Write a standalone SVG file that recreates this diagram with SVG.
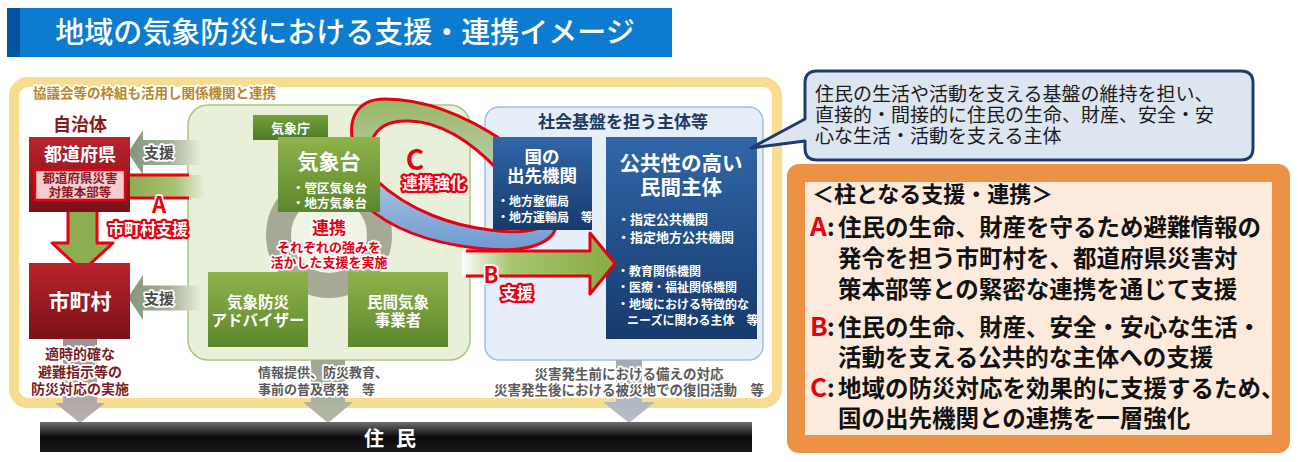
<svg xmlns="http://www.w3.org/2000/svg" width="1298" height="462" viewBox="0 0 1298 462">
<defs>
<linearGradient id="gRed" x1="0" y1="0" x2="0" y2="1"><stop offset="0" stop-color="#bb232c"/><stop offset="1" stop-color="#7a1118"/></linearGradient>
<linearGradient id="gGreen" x1="0" y1="0" x2="0" y2="1"><stop offset="0" stop-color="#8fb34c"/><stop offset="1" stop-color="#5b872b"/></linearGradient>
<linearGradient id="gTab" x1="0" y1="0" x2="0" y2="1"><stop offset="0" stop-color="#74a03d"/><stop offset="1" stop-color="#4d7a25"/></linearGradient>
<linearGradient id="gBlue" x1="0" y1="0" x2="0" y2="1"><stop offset="0" stop-color="#3166a8"/><stop offset="1" stop-color="#163a6c"/></linearGradient>
<linearGradient id="gBar" x1="0" y1="0" x2="0" y2="1"><stop offset="0" stop-color="#6e6e6e"/><stop offset="0.5" stop-color="#0a0a0a"/><stop offset="1" stop-color="#1a1a1a"/></linearGradient>
<linearGradient id="gA" gradientUnits="userSpaceOnUse" x1="130" y1="0" x2="205" y2="0"><stop offset="0" stop-color="#8cad50"/><stop offset="0.6" stop-color="#a6c274"/><stop offset="1" stop-color="#e8f0da"/></linearGradient>
<linearGradient id="gS" gradientUnits="userSpaceOnUse" x1="128" y1="0" x2="202" y2="0"><stop offset="0" stop-color="#84957a"/><stop offset="0.55" stop-color="#a3ae98"/><stop offset="1" stop-color="#e8f0da"/></linearGradient>
<linearGradient id="gB" gradientUnits="userSpaceOnUse" x1="462" y1="0" x2="600" y2="0"><stop offset="0" stop-color="#ffffff"/><stop offset="0.35" stop-color="#a8c56e"/><stop offset="1" stop-color="#8cae4a"/></linearGradient>
<linearGradient id="gC" gradientUnits="userSpaceOnUse" x1="0" y1="99" x2="0" y2="252"><stop offset="0" stop-color="#97b664"/><stop offset="0.35" stop-color="#b4c89d"/><stop offset="0.62" stop-color="#9dbada"/><stop offset="1" stop-color="#6b99d2"/></linearGradient>
<linearGradient id="gDR" x1="0" y1="0" x2="0" y2="1"><stop offset="0" stop-color="#9c9292"/><stop offset="1" stop-color="#b9b1b1"/></linearGradient>
<linearGradient id="gDG" x1="0" y1="0" x2="0" y2="1"><stop offset="0" stop-color="#9ea78f"/><stop offset="1" stop-color="#b3b9a5"/></linearGradient>
<linearGradient id="gDB" x1="0" y1="0" x2="0" y2="1"><stop offset="0" stop-color="#a2aab6"/><stop offset="1" stop-color="#b8bec8"/></linearGradient>
</defs>
<style>
text{font-family:"Noto Sans CJK JP","Noto Sans",sans-serif}
.b{font-weight:700}
.w{fill:#fff;font-weight:700}
.c{text-anchor:middle}
.halo{paint-order:stroke;stroke:#fff;stroke-width:3.5;stroke-linejoin:round}
.rh{fill:#fff;font-weight:700;paint-order:stroke;stroke:#e60012;stroke-width:4.5;stroke-linejoin:round}
.red{fill:#e60012;font-weight:700}
.rl{fill:none;stroke:#e60012;stroke-width:3;stroke-linejoin:round}
.pt{font-weight:700;fill:#111;font-size:23.5px}
.lt{fill:#e60012;font-size:26px}
</style>
<rect width="1298" height="462" fill="#fff"/>

<g id="title">
<rect x="7" y="8" width="665" height="49" fill="#0b7ccf"/>
<rect x="7" y="8" width="13" height="49" fill="#0054a2"/>
<text x="345" y="43" class="c" font-size="29" font-weight="500" fill="#fff">地域の気象防災における支援・連携イメージ</text>
</g>

<g id="frame">
<rect x="14" y="82" width="763" height="321" rx="14" fill="#fff" stroke="#f8dc8f" stroke-width="10"/>
<text x="33" y="98" font-size="13.5" class="b halo" fill="#b8862a">協議会等の枠組も活用し関係機関と連携</text>
</g>

<g id="region-jma">
<rect x="188" y="105" width="282" height="255" rx="20" fill="#e8f0da" stroke="#a9c67c" stroke-width="1.5"/>
<circle cx="329" cy="235" r="50.5" fill="#eff4e6" stroke="#a5a995" stroke-width="25"/>
</g>
<g id="region-infra">
<rect x="485" y="107" width="278" height="253" rx="14" fill="#e6eef8" stroke="#a3c0e3" stroke-width="1.5"/>
<text x="623" y="128" class="c b" font-size="17" fill="#1f3864">社会基盤を担う主体等</text>
</g>

<g id="connectors">
<path d="M200,140 H143 V130 L128,152.5 L143,175 V165 H200 Z" fill="url(#gS)"/>
<path d="M200,285.5 H143 V275 L128,297.5 L143,320 V310.5 H200 Z" fill="url(#gS)"/>
<path d="M205,175 H90 Q68,175 68,197 V243 H52 L82.5,271 L113,243 H97 V210 Q97,198 109,198 H205 Z" fill="url(#gA)"/>
<path d="M189,175 H90 Q68,175 68,197 V243 H52 L82.5,271 L113,243 H97 V210 Q97,198 109,198 H189" class="rl"/>
<path d="M355,150 C345,118 358,99 385,99 C425,99 465,115 505,142 L570,200 L553,234 C540,250 510,252 475,248 C425,242 390,228 365,205 Z M372,140 C378,125 392,120 410,121 C440,122 470,140 500,172 L548,224 C535,233 510,233 490,230 C455,226 410,212 376,180 Z" fill="url(#gC)" fill-rule="evenodd" stroke="#e60012" stroke-width="3"/>
<path d="M63,339 H97 V403 H105 L80,423 L55,403 H63 Z" fill="url(#gDR)"/>
<path d="M311,360 H345 V402 H353 L328,423 L303,402 H311 Z" fill="url(#gDG)"/>
<path d="M616,360 H642 V402 H655 L629,423 L603,402 H616 Z" fill="url(#gDB)"/>
</g>

<g id="node-jichitai">
<text x="80" y="131" class="c b" font-size="18" fill="#8b1a1a">自治体</text>
</g>
<g id="node-todofuken">
<rect x="29" y="137" width="101" height="75" fill="url(#gRed)"/>
<text x="80" y="161" class="c w" font-size="18">都道府県</text>
<rect x="35" y="170" width="90" height="30" fill="#f3cdd0" stroke="#e60012" stroke-width="2.5"/>
<text class="c b" font-size="12.5" fill="#8b1a22"><tspan x="80" y="183">都道府県災害</tspan><tspan x="80" y="197">対策本部等</tspan></text>
</g>
<g id="node-shichoson">
<rect x="29" y="263" width="101" height="76" fill="url(#gRed)"/>
<text x="80" y="309" class="c w" font-size="21">市町村</text>
</g>
<g id="node-kishocho">
<rect x="253" y="115" width="75" height="25" fill="url(#gTab)"/>
<text x="290.5" y="133" class="c w" font-size="13">気象庁</text>
</g>
<g id="node-kishodai">
<rect x="278" y="137" width="102" height="75" fill="url(#gGreen)"/>
<text class="w"><tspan x="329" y="169" class="c" font-size="21">気象台</tspan><tspan x="292" y="193" font-size="12.5">・管区気象台</tspan><tspan x="292" y="208" font-size="12.5">・地方気象台</tspan></text>
</g>
<g id="node-renkei">
<text class="c halo" font-weight="700" fill="#e60012"><tspan x="329" y="234" font-size="17">連携</tspan><tspan x="329" y="252" font-size="13">それぞれの強みを</tspan><tspan x="329" y="267" font-size="13">活かした支援を実施</tspan></text>
</g>
<g id="node-advisor">
<rect x="208" y="272" width="100" height="75" fill="url(#gGreen)"/>
<text class="c w" font-size="15.5"><tspan x="258" y="308">気象防災</tspan><tspan x="258" y="326">アドバイザー</tspan></text>
</g>
<g id="node-private-met">
<rect x="348" y="272" width="100" height="75" fill="url(#gGreen)"/>
<text class="c w" font-size="15.5"><tspan x="398" y="308">民間気象</tspan><tspan x="398" y="326">事業者</tspan></text>
</g>
<g id="node-kuni">
<rect x="493" y="137" width="99" height="93" fill="url(#gBlue)"/>
<text class="w"><tspan x="542" y="163" class="c" font-size="17.5">国の</tspan><tspan x="542" y="182" class="c" font-size="17.5">出先機関</tspan><tspan x="497" y="206" font-size="12">・地方整備局</tspan><tspan x="497" y="222" font-size="12">・地方運輸局　等</tspan></text>
</g>
<g id="node-public">
<rect x="606" y="137" width="151" height="202" fill="url(#gBlue)"/>
<text class="w"><tspan x="681" y="171" class="c" font-size="20.5">公共性の高い</tspan><tspan x="681" y="195" class="c" font-size="20.5">民間主体</tspan><tspan x="617" y="224" font-size="13">・指定公共機関</tspan><tspan x="617" y="242" font-size="13">・指定地方公共機関</tspan><tspan x="617" y="276" font-size="12">・教育関係機関</tspan><tspan x="617" y="292" font-size="12">・医療・福祉関係機関</tspan><tspan x="617" y="309" font-size="12">・地域における特徴的な</tspan><tspan x="627" y="325" font-size="12">ニーズに関わる主体　等</tspan></text>
</g>

<g id="connectors-overlay">
<path d="M462,251 H590 V233 L615,263.5 L590,294 V276 H462 Z" fill="url(#gB)"/>
<path d="M466,251 H590 V233 L615,263.5 L590,294 V276 H466" class="rl"/>
</g>

<g id="connector-labels">
<text x="159" y="158" class="c b halo" font-size="15" fill="#4d4d4d">支援</text>
<text x="159" y="304" class="c b halo" font-size="15" fill="#4d4d4d">支援</text>
<text class="c"><tspan x="159" y="213" class="red halo" font-size="22">A</tspan><tspan x="148" y="235" class="rh" font-size="16">市町村支援</tspan></text>
<text class="c"><tspan x="415" y="170" class="red" font-size="28">C</tspan><tspan x="434" y="189" class="rh" font-size="16">連携強化</tspan></text>
<text class="c"><tspan x="491" y="283" class="red halo" font-size="22">B</tspan><tspan x="517" y="299" class="rh" font-size="16">支援</tspan></text>
<text class="c b halo" font-size="14" fill="#7a1f26"><tspan x="80" y="359">適時的確な</tspan><tspan x="80" y="377">避難指示等の</tspan><tspan x="80" y="394">防災対応の実施</tspan></text>
<text class="b halo" font-size="13" fill="#5a5a5a"><tspan x="258" y="377">情報提供、防災教育、</tspan><tspan x="258" y="394">事前の普及啓発　等</tspan></text>
<text class="c b halo" font-size="13.5" fill="#5a5a5a"><tspan x="629" y="379">災害発生前における備えの対応</tspan><tspan x="629" y="395">災害発生後における被災地での復旧活動　等</tspan></text>
</g>

<g id="node-jumin">
<rect x="40" y="422" width="712" height="30" fill="url(#gBar)"/>
<text x="396" y="446" class="c w" font-size="20" letter-spacing="12">住民</text>
</g>

<g id="node-callout">
<path d="M817,71 H1241 Q1253,71 1253,83 V148 Q1253,160 1241,160 H817 Q805,160 805,148 V141 L751,148 L805,119 V83 Q805,71 817,71 Z" fill="#dde5f0" stroke="#1f3c6b" stroke-width="3" stroke-linejoin="round"/>
<text font-size="19" fill="#1a1a1a"><tspan x="815" y="101">住民の生活や活動を支える基盤の維持を担い、</tspan><tspan x="815" y="122">直接的・間接的に住民の生命、財産、安全・安</tspan><tspan x="815" y="143">心な生活・活動を支える主体</tspan></text>
</g>

<g id="node-pillars">
<rect x="787" y="164" width="503" height="289" rx="12" fill="#ec9146"/>
<rect x="805" y="182" width="467" height="253" fill="#fcebdc"/>
<text x="812" y="202" class="b" font-size="22" fill="#111">＜柱となる支援・連携＞</text>
<text class="pt"><tspan x="810" y="236" class="lt">A</tspan><tspan x="827" y="236">:</tspan><tspan x="838" y="236">住民の生命、財産を守るため避難情報の</tspan><tspan x="838" y="267">発令を担う市町村を、都道府県災害対</tspan><tspan x="838" y="298">策本部等との緊密な連携を通じて支援</tspan></text>
<text class="pt"><tspan x="810" y="336" class="lt">B</tspan><tspan x="827" y="336">:</tspan><tspan x="838" y="336">住民の生命、財産、安全・安心な生活・</tspan><tspan x="838" y="366">活動を支える公共的な主体への支援</tspan></text>
<text class="pt"><tspan x="810" y="397" class="lt">C</tspan><tspan x="827" y="397">:</tspan><tspan x="838" y="397">地域の防災対応を効果的に支援するため、</tspan><tspan x="838" y="427">国の出先機関との連携を一層強化</tspan></text>
</g>
</svg>
